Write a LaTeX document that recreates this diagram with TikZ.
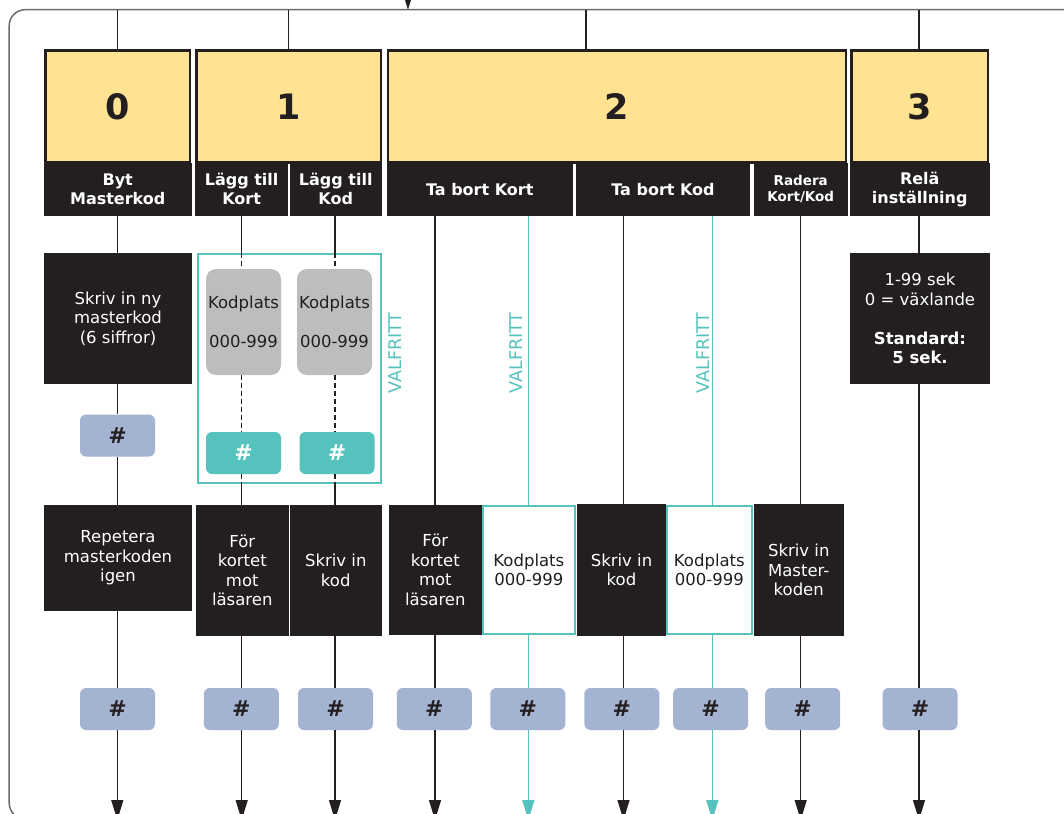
\documentclass[tikz,border=0pt]{standalone}
\usepackage{fontspec}
\setmainfont{DejaVu Sans}
\usetikzlibrary{arrows.meta}
\definecolor{ink}{HTML}{231F20}
\definecolor{yel}{HTML}{FFE292}
\definecolor{tealc}{HTML}{55C2BE}
\definecolor{blu}{HTML}{A3B3D1}
\definecolor{gry}{HTML}{BCBDBC}
\definecolor{frm}{HTML}{6B6B6B}
\tikzset{
 ybox/.style={draw=ink, fill=yel, line width=2.5pt, inner sep=0pt, text=ink, font=\fontsize{35}{35}\selectfont\bfseries},
 hbox/.style={fill=ink, text=white, inner sep=0pt, align=center, minimum height=52.5pt, font=\fontsize{16}{19}\selectfont\bfseries},
 bbox/.style={fill=ink, text=white, inner sep=0pt, align=center, font=\fontsize{16.5}{19.5}\selectfont},
 tbox/.style={draw=tealc, line width=2pt, fill=white, text=ink, inner sep=0pt, align=center, font=\fontsize{16.5}{19.5}\selectfont},
 tframe/.style={draw=tealc, line width=2pt, inner sep=0pt},
 gbox/.style={fill=gry, rounded corners=10pt, text=ink, inner sep=0pt, align=center, minimum width=75pt, minimum height=106pt, font=\fontsize{16.5}{19.5}\selectfont},
 hb/.style={fill=blu, rounded corners=6pt, minimum width=75pt, minimum height=42pt, inner sep=0pt, text=ink, font=\fontsize{22}{22}\selectfont\bfseries},
 ht/.style={hb, fill=tealc, text=white},
 conn/.style={draw=ink, line width=1.1pt},
 tconn/.style={draw=tealc, line width=1.1pt},
 dconn/.style={conn, dash pattern=on 5pt off 3pt},
 arr/.style={-{Triangle[length=20pt,width=12pt]}},
 vtext/.style={rotate=90, text=tealc, inner sep=0pt, font=\fontsize{17.5}{17.5}\selectfont}
}
\begin{document}
\begin{tikzpicture}[x=1pt,y=-1pt]
\useasboundingbox (0,0) rectangle (1064,813);
\clip (0,0) rectangle (1064,813);

% frame
\coordinate (ftl) at (9.2,9.7);
\coordinate (fin) at (408,-12);
\draw[draw=frm, line width=1.5pt, rounded corners=16pt] (1090,9.7) -- (ftl) -- (9.2,819) -- (1090,819);
\draw[draw=ink, line width=1.1pt, arr] (fin) -- (fin |- ftl);

% column x coordinates
\coordinate (k0) at (117.3,0);
\coordinate (k1) at (288.7,0);
\coordinate (k2) at (586,0);
\coordinate (k1a) at (241.7,0);
\coordinate (k1b) at (335,0);
\coordinate (k2a) at (435,0);
\coordinate (k2b) at (528.3,0);
\coordinate (k2c) at (623.5,0);
\coordinate (k2d) at (712.3,0);
\coordinate (k2e) at (800.7,0);
\coordinate (k3) at (919,0);
\coordinate (bot) at (0,820);

% yellow boxes
\node[ybox, minimum width=144.5pt, minimum height=112.25pt] (Y0) at (117.5,106.4) {0};
\node[ybox, minimum width=184.5pt, minimum height=112.25pt] (Y1) at (288.5,106.4) {1};
\node[ybox, minimum width=458pt, minimum height=112.25pt] (Y2) at (616.75,106.4) {2};
\node[ybox, minimum width=136.5pt, minimum height=112.25pt] (Y3) at (919.5,106.4) {3};

\draw[conn] (Y0.north -| k0) -- (ftl -| k0);
\draw[conn] (Y1.north -| k1) -- (ftl -| k1);
\draw[conn] (Y2.north -| k2) -- (ftl -| k2);
\draw[conn] (Y3.north -| k3) -- (ftl -| k3);

% headers
\node[hbox, minimum width=147.5pt] (H0) at (117.75,189.25) {Byt\\Masterkod};
\node[hbox, minimum width=93.3pt] (H1a) at (241.65,189.25) {Lägg till\\Kort};
\node[hbox, minimum width=92.5pt] (H1b) at (335.75,189.25) {Lägg till\\Kod};
\node[hbox, minimum width=186.5pt] (H2a) at (479.75,189.25) {Ta bort Kort};
\node[hbox, minimum width=174pt] (H2b) at (663,189.25) {Ta bort Kod};
\node[hbox, minimum width=94.5pt, font=\fontsize{13.5}{16}\selectfont\bfseries] (H2c) at (800.75,189.25) {Radera\\Kort/Kod};
\node[hbox, minimum width=139.5pt] (H3) at (919.75,189.25) {Relä\\inställning};

% column 0
\node[bbox, minimum width=148pt, minimum height=131pt] (B0a) at (118,318.5) {Skriv in ny\\masterkod\\(6 siffror)};
\node[hb] (P0a) at (117.5,435.5) {\#};
\node[bbox, minimum width=148pt, minimum height=106pt] (B0b) at (118,558) {Repetera\\masterkoden\\igen};

% column 1
\node[tframe, minimum width=183.3pt, minimum height=229pt] (F1) at (289.35,368.5) {};
\node[gbox] (G1a) at (243.5,322) {Kodplats\\[19.5pt]000-999};
\node[gbox] (G1b) at (334.5,322) {Kodplats\\[19.5pt]000-999};
\node[ht] (T1a) at (243.5,453) {\#};
\node[ht] (T1b) at (337,453) {\#};
\node[vtext] (V1) at (395,353) {VALFRITT};
\node[bbox, minimum width=92.5pt, minimum height=131pt] (B1a) at (242.25,570.5) {För\\kortet\\mot\\läsaren};
\node[bbox, minimum width=92.5pt, minimum height=131pt] (B1b) at (335.75,570.5) {Skriv in\\kod};

% column 2
\node[bbox, minimum width=92.7pt, minimum height=130pt] (B2a) at (435.35,570) {För\\kortet\\mot\\läsaren};
\node[tbox, minimum width=92.3pt, minimum height=128pt] (T2b) at (528.85,570) {Kodplats\\000-999};
\node[bbox, minimum width=89pt, minimum height=132pt] (B2c) at (621.5,570) {Skriv in\\kod};
\node[tbox, minimum width=84.7pt, minimum height=128pt] (T2d) at (709.35,570) {Kodplats\\000-999};
\node[bbox, minimum width=90.5pt, minimum height=132pt] (B2e) at (798.75,570) {Skriv in\\Master-\\koden};
\node[vtext] (V2) at (516,353) {VALFRITT};
\node[vtext] (V3) at (703,353) {VALFRITT};

% column 3
\node[bbox, minimum width=140pt, minimum height=131pt] (B3) at (920,318.5) {1-99 sek\\0 = växlande\\[19.5pt]\textbf{Standard:}\\\textbf{5 sek.}};

% bottom hash row
\node[hb] (P0) at (117.5,709) {\#};
\node[hb] (P1a) at (241.4,709) {\#};
\node[hb] (P1b) at (335.5,709) {\#};
\node[hb] (P2a) at (434.3,709) {\#};
\node[hb] (P2b) at (527.8,709) {\#};
\node[hb] (P2c) at (621.8,709) {\#};
\node[hb] (P2d) at (710.6,709) {\#};
\node[hb] (P2e) at (802.7,709) {\#};
\node[hb] (P3) at (920,709) {\#};

% connectors column 0
\draw[conn] (H0.south -| k0) -- (B0a.north -| k0);
\draw[conn] (B0a.south -| k0) -- (P0a.north -| k0);
\draw[conn] (P0a.south -| k0) -- (B0b.north -| k0);
\draw[conn] (B0b.south -| k0) -- (P0.north -| k0);
\draw[conn, arr] (P0.south -| k0) -- (bot -| k0);

% connectors column 1
\foreach \k/\h/\g/\t/\b/\p in {k1a/H1a/G1a/T1a/B1a/P1a, k1b/H1b/G1b/T1b/B1b/P1b}{
  \draw[conn] (\h.south -| \k) -- (F1.north -| \k);
  \draw[dconn] (F1.north -| \k) -- (\g.north -| \k);
  \draw[dconn] (\g.south -| \k) -- (\t.north -| \k);
  \draw[dconn] (\t.south -| \k) -- (F1.south -| \k);
  \draw[conn] (F1.south -| \k) -- (\b.north -| \k);
  \draw[conn] (\b.south -| \k) -- (\p.north -| \k);
  \draw[conn, arr] (\p.south -| \k) -- (bot -| \k);
}

% connectors column 2
\draw[conn] (H2a.south -| k2a) -- (B2a.north -| k2a);
\draw[conn] (B2a.south -| k2a) -- (P2a.north -| k2a);
\draw[conn, arr] (P2a.south -| k2a) -- (bot -| k2a);
\draw[tconn] (H2a.south -| k2b) -- (T2b.north -| k2b);
\draw[tconn] (T2b.south -| k2b) -- (P2b.north -| k2b);
\draw[tconn, arr] (P2b.south -| k2b) -- (bot -| k2b);
\draw[conn] (H2b.south -| k2c) -- (B2c.north -| k2c);
\draw[conn] (B2c.south -| k2c) -- (P2c.north -| k2c);
\draw[conn, arr] (P2c.south -| k2c) -- (bot -| k2c);
\draw[tconn] (H2b.south -| k2d) -- (T2d.north -| k2d);
\draw[tconn] (T2d.south -| k2d) -- (P2d.north -| k2d);
\draw[tconn, arr] (P2d.south -| k2d) -- (bot -| k2d);
\draw[conn] (H2c.south -| k2e) -- (B2e.north -| k2e);
\draw[conn] (B2e.south -| k2e) -- (P2e.north -| k2e);
\draw[conn, arr] (P2e.south -| k2e) -- (bot -| k2e);

% connectors column 3
\draw[conn] (H3.south -| k3) -- (B3.north -| k3);
\draw[conn] (B3.south -| k3) -- (P3.north -| k3);
\draw[conn, arr] (P3.south -| k3) -- (bot -| k3);
\end{tikzpicture}
\end{document}
